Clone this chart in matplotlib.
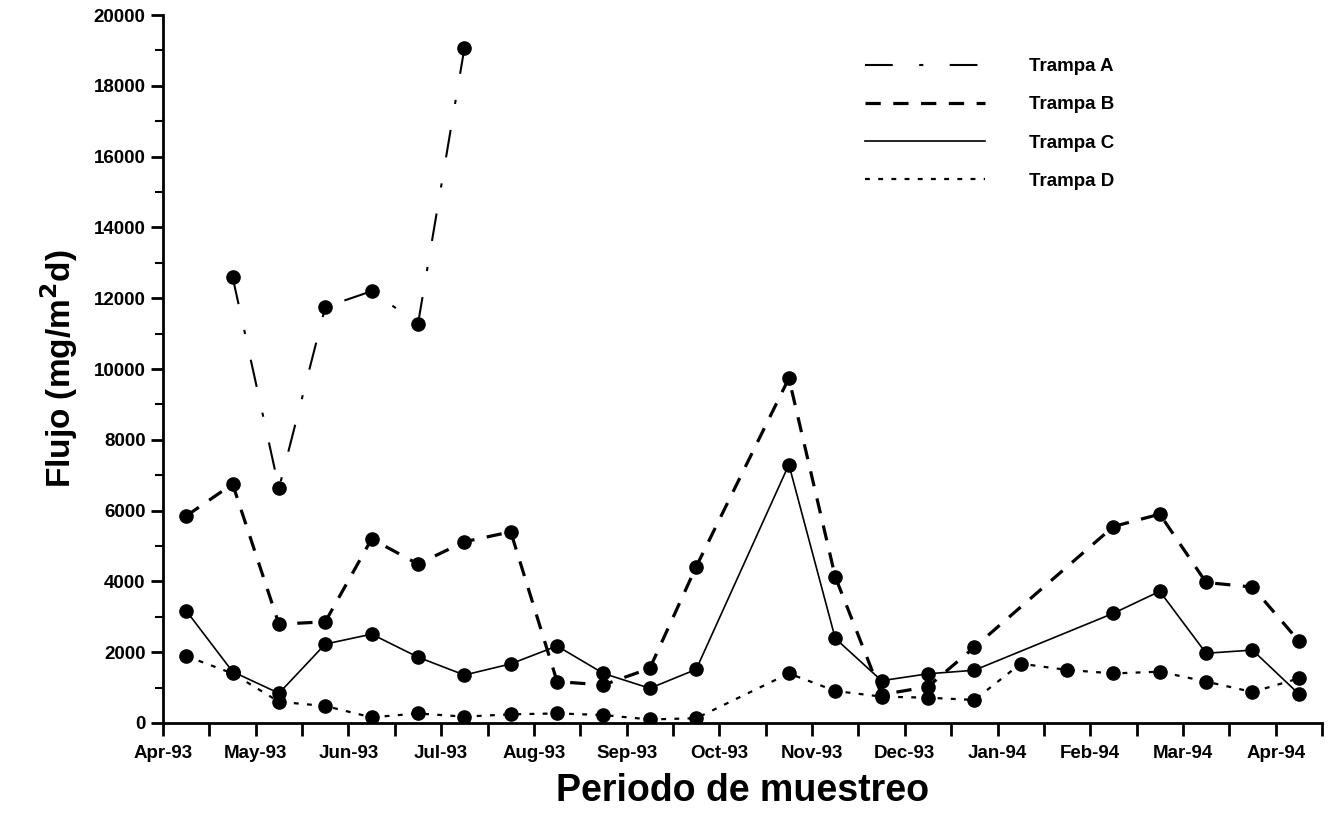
import numpy as np
import matplotlib
matplotlib.use("Agg")
import matplotlib.pyplot as plt
from matplotlib.lines import Line2D
from matplotlib.ticker import MultipleLocator

plt.rcParams["font.family"] = ["Liberation Sans", "DejaVu Sans"]
plt.rcParams["font.weight"] = "bold"
plt.rcParams["lines.scale_dashes"] = False

# eje x: meses desde Apr-93; muestreo quincenal (25 quincenas)
months = ["Apr-93", "May-93", "Jun-93", "Jul-93", "Aug-93", "Sep-93", "Oct-93",
          "Nov-93", "Dec-93", "Jan-94", "Feb-94", "Mar-94", "Apr-94"]
quincena = np.arange(25)
nan = np.nan

# flujo (mg/m2 d) por trampa; nan = sin muestra
trampa_a = [nan, 12600, 6630, 11750, 12200, 11280, 19060, nan, nan, nan, nan, nan, nan,
            nan, nan, nan, nan, nan, nan, nan, nan, nan, nan, nan, nan]
trampa_b = [5850, 6750, 2790, 2860, 5200, 4490, 5120, 5400, 1170, 1075, 1545, 4415, nan,
            9740, 4130, 800, 1025, 2140, nan, nan, 5550, 5900, 3970, 3840, 2315]
trampa_c = [3170, 1450, 840, 2230, 2510, 1860, 1355, 1670, 2175, 1400, 980, 1515, nan,
            7300, 2390, 1195, 1390, 1490, nan, nan, 3100, 3720, 1970, 2060, 820]
trampa_d = [1890, 1400, 600, 480, 160, 270, 180, 245, 270, 225, 100, 135, nan,
            1400, 905, 745, 715, 650, 1675, 1500, 1400, 1450, 1170, 875, 1260]

series = [
    ("Trampa A", trampa_a, dict(ls=(0, (20, 19, 3, 19)), lw=1.5)),
    ("Trampa B", trampa_b, dict(ls=(0, (11, 9)), lw=2.3)),
    ("Trampa C", trampa_c, dict(ls="-", lw=1.2)),
    ("Trampa D", trampa_d, dict(ls=(0, (3.5, 6)), lw=1.6)),
]

fig = plt.figure(figsize=(13.3, 8.26), dpi=100)
ax = fig.add_axes([0.1226, 0.1247, 0.8714, 0.8571])

x_all = 0.25 + 0.5 * quincena
handles = []
for name, vals, st in series:
    v = np.array(vals, dtype=float)
    ok = ~np.isnan(v)
    ax.plot(x_all[ok], v[ok], color="black", marker="o", ms=9.5, mfc="black",
            mec="black", **st)
    handles.append(Line2D([], [], color="black", **st))

ax.set_xlim(0, 12.5)
ax.set_ylim(0, 20000)
ax.set_xticks(np.arange(len(months)))
ax.set_xticklabels(months)
ax.xaxis.set_minor_locator(MultipleLocator(0.5))
ax.yaxis.set_major_locator(MultipleLocator(2000))
ax.yaxis.set_minor_locator(MultipleLocator(1000))
ax.tick_params(axis="both", which="major", labelsize=13.5, length=9, width=2)
ax.tick_params(axis="x", which="minor", length=9, width=2)
ax.tick_params(axis="y", which="minor", length=6, width=1.5)
ax.tick_params(axis="x", pad=7)
for sp in ["top", "right"]:
    ax.spines[sp].set_visible(False)
for sp in ["left", "bottom"]:
    ax.spines[sp].set_linewidth(2)

ax.set_ylabel("Flujo (mg/m$^\\mathbf{2}$d)", fontsize=24, fontweight="bold", labelpad=10)
ax.set_xlabel("Periodo de muestreo", fontsize=27, fontweight="bold", labelpad=8)

fig.legend(handles, [s[0] for s in series], loc="upper left",
           bbox_to_anchor=(0.638, 0.95), frameon=False, fontsize=13.5,
           handlelength=6.4, handletextpad=2.3, labelspacing=1.12)

fig.savefig("out.png", dpi=100)
